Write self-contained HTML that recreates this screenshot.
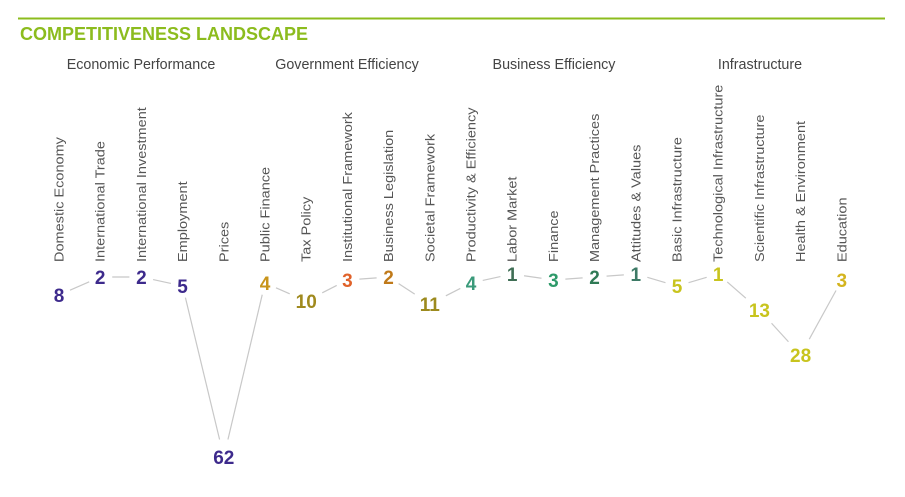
<!DOCTYPE html>
<html><head><meta charset="utf-8"><style>
html,body{margin:0;padding:0;background:#fff;width:905px;height:497px;overflow:hidden}
svg{display:block;font-family:"Liberation Sans",Arial,sans-serif}
</style></head><body>
<svg width="905" height="497" viewBox="0 0 905 497">
<line x1="18" y1="18.5" x2="885" y2="18.5" stroke="#8cbc1e" stroke-width="2"/>
<text x="20" y="40" font-size="18" font-weight="bold" fill="#8cbc1e">COMPETITIVENESS LANDSCAPE</text>
<g font-size="14.3" fill="#444" text-anchor="middle">
<text x="141" y="69">Economic Performance</text>
<text x="347" y="69">Government Efficiency</text>
<text x="554" y="69">Business Efficiency</text>
<text x="760" y="69">Infrastructure</text>
</g>
<g id="lines" stroke="#c8c8c8" stroke-width="1.2" fill="none"></g>
<g id="labels" font-size="13.2" fill="#555"></g>
<g id="nums" font-size="19" font-weight="bold" text-anchor="middle"></g>
</svg>
<script>
var names=["Domestic Economy","International Trade","International Investment","Employment","Prices","Public Finance","Tax Policy","Institutional Framework","Business Legislation","Societal Framework","Productivity & Efficiency","Labor Market","Finance","Management Practices","Attitudes & Values","Basic Infrastructure","Technological Infrastructure","Scientific Infrastructure","Health & Environment","Education"];
var vals=[8,2,2,5,62,4,10,3,2,11,4,1,3,2,1,5,1,13,28,3];
var cols=["#3d2a8c","#3d2a8c","#3d2a8c","#3d2a8c","#3d2a8c","#c8941a","#a08a1e","#e0622a","#c07a1a","#9c8a1e","#3a9a7a","#3f6e55","#2e9a6a","#2f7a55","#3d7a66","#c8c41e","#c8c41e","#c8c41e","#c8c41e","#d4b41e"];
var ns="http://www.w3.org/2000/svg";
function X(i){return 59+i*41.2}
function Y(v){return 271+3*v}
var L=document.getElementById("lines"),T=document.getElementById("labels"),N=document.getElementById("nums");
for(var i=0;i<20;i++){
 var t=document.createElementNS(ns,"text");t.textContent=names[i];
 t.setAttribute("transform","translate("+(X(i)+4.5)+",262) rotate(-90) scale(1.1,1)");T.appendChild(t);
 var n=document.createElementNS(ns,"text");n.textContent=vals[i];n.setAttribute("x",X(i));n.setAttribute("y",Y(vals[i])+7);n.setAttribute("fill",cols[i]);N.appendChild(n);
 if(i<19){
  var x1=X(i),y1=Y(vals[i]),x2=X(i+1),y2=Y(vals[i+1]);
  var dx=x2-x1,dy=y2-y1,d=Math.sqrt(dx*dx+dy*dy);
  var g1=vals[i]>9?18:12,g2=vals[i+1]>9?18:12;
  var l=document.createElementNS(ns,"line");
  l.setAttribute("x1",x1+dx*g1/d);l.setAttribute("y1",y1+dy*g1/d);
  l.setAttribute("x2",x2-dx*g2/d);l.setAttribute("y2",y2-dy*g2/d);L.appendChild(l);
 }
}
</script>
</body></html>
